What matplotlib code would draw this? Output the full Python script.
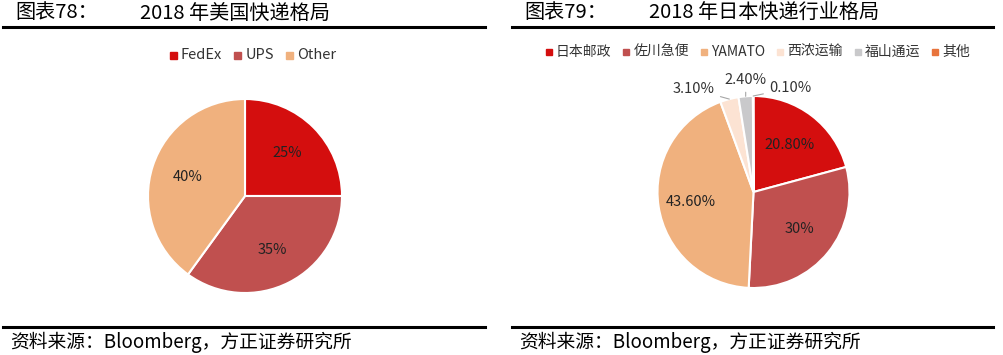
import numpy as np
import matplotlib.pyplot as plt
from matplotlib.patches import Rectangle

plt.rcParams['font.family'] = ['Noto Sans CJK SC', 'DejaVu Sans']

# Data
us_names = ['FedEx', 'UPS', 'Other']
us_share = [25, 35, 40]
us_labels = ['25%', '35%', '40%']

jp_names = ['日本邮政', '佐川急便', 'YAMATO', '西浓运输', '福山通运', '其他']
jp_share = [20.8, 30, 43.6, 3.1, 2.4, 0.1]
jp_labels = ['20.80%', '30%', '43.60%', '3.10%', '2.40%', '0.10%']

us_colors = ['#D40E0E', '#C0504F', '#F0B17E']
jp_colors = ['#D40E0E', '#C0504F', '#F0B17E', '#FCE3D3', '#C9C9CB', '#E8743C']

W, H = 1004, 355
fig = plt.figure(figsize=(W / 100, H / 100), dpi=100)
renderer = fig.canvas.get_renderer()


def fx(x):
    return x / W


def fy(y):
    return 1 - y / H


def pie_axes(cx, cy, r):
    ax = fig.add_axes([fx(cx - r), fy(cy + r), 2 * r / W, 2 * r / H])
    ax.axis('off')
    return ax


def fix_limits(ax):
    ax.set_aspect('auto')
    ax.set_xlim(-1, 1)
    ax.set_ylim(-1, 1)


def legend_row(x, y, names, colors, size, box):
    for name, c in zip(names, colors):
        fig.add_artist(Rectangle((fx(x), fy(y + box / 2)), box / W, box / H, color=c))
        t = fig.text(fx(x + box + 4), fy(y), name, fontsize=size, va='center', ha='left',
                     color='#333333')
        w = t.get_window_extent(renderer).width
        x += box + 4 + w + 12


# headers and rules
for x0, x1, num, title in [(3, 485, '图表78：', '2018 年美国快递格局'),
                           (512, 993, '图表79：', '2018 年日本快递行业格局')]:
    fig.add_artist(plt.Line2D([fx(x0), fx(x1)], [fy(27), fy(27)], color='black', lw=2.2))
    fig.add_artist(plt.Line2D([fx(x0), fx(x1)], [fy(327), fy(327)], color='black', lw=2.2))
    fig.text(fx(x0 + 12), fy(13), num, fontsize=14.5, va='center', ha='left')
    fig.text(fx(x0 + 137), fy(13), title, fontsize=14.5, va='center', ha='left')
    fig.text(fx(x0 + 7), fy(342), '资料来源：Bloomberg，方正证券研究所', fontsize=13.5,
             va='center', ha='left', style='italic')

# US pie
ax1 = pie_axes(245, 196, 97)
wedges, _ = ax1.pie(us_share, colors=us_colors, startangle=90, counterclock=False,
                    radius=1, wedgeprops=dict(edgecolor='white', linewidth=1.5))
fix_limits(ax1)
for w, lab in zip(wedges, us_labels):
    ang = np.deg2rad((w.theta1 + w.theta2) / 2)
    ax1.text(0.62 * np.cos(ang), 0.62 * np.sin(ang), lab, ha='center', va='center',
             fontsize=10.5, color='#222222')

legend_row(170, 55, us_names, us_colors, 10.5, 7)

# Japan pie
ax2 = pie_axes(753.5, 192, 96)
wedges2, _ = ax2.pie(jp_share, colors=jp_colors, startangle=90, counterclock=False,
                     radius=1, wedgeprops=dict(edgecolor='white', linewidth=1.5))
fix_limits(ax2)
inside_r = [0.62, 0.62, 0.66]
outside_pos = [(-0.62, 1.07), (-0.08, 1.17), (0.38, 1.08)]
for i, (w, lab) in enumerate(zip(wedges2, jp_labels)):
    ang = np.deg2rad((w.theta1 + w.theta2) / 2)
    if i < 3:
        ax2.text(inside_r[i] * np.cos(ang), inside_r[i] * np.sin(ang), lab,
                 ha='center', va='center', fontsize=10.5, color='#222222')
    else:
        tx, ty = outside_pos[i - 3]
        ex, ey = np.cos(ang), np.sin(ang)
        ax2.annotate(lab, xy=(ex, ey), xytext=(tx, ty), ha='center', va='center',
                     fontsize=10.5, color='#333333', annotation_clip=False,
                     arrowprops=dict(arrowstyle='-', color='#A6A6A6', lw=0.8,
                                     shrinkA=2, shrinkB=0))

legend_row(546, 52, jp_names, jp_colors, 10, 6)

fig.savefig('out.png', dpi=100)
